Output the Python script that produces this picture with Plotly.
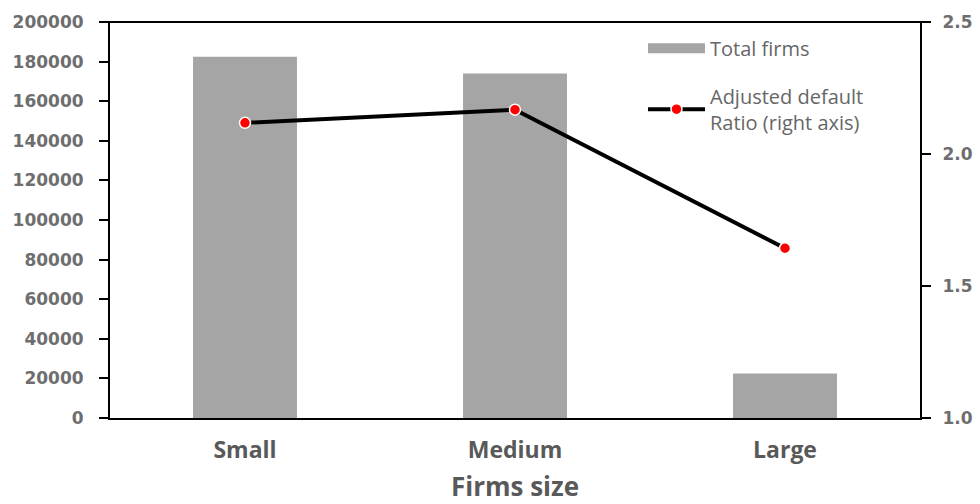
import plotly.graph_objects as go

# Firm size categories and values
categories = ["Small", "Medium", "Large"]
total_firms = [182500, 174000, 22500]
default_ratio = [2.118, 2.168, 1.643]

left_ticks = [0, 20000, 40000, 60000, 80000, 100000, 120000, 140000, 160000, 180000, 200000]
right_ticks = [1.0, 1.5, 2.0, 2.5]

BAR_GREY = "#a5a5a5"
TEXT_GREY = "#666666"
tick_font = dict(family="DejaVu Sans", size=17, color="#6e6e6e", weight="bold")

fig = go.Figure()
fig.add_trace(go.Bar(
    x=categories, y=total_firms, name="Total firms",
    marker=dict(color=BAR_GREY, line=dict(width=0)),
    showlegend=False,
))
# legend swatch for the bars: a wide flat grey band
fig.add_trace(go.Scatter(
    x=[None], y=[None], name="Total firms", mode="lines",
    line=dict(color=BAR_GREY, width=10),
    legendgroup="a", hoverinfo="skip",
))
fig.add_trace(go.Scatter(
    x=categories, y=default_ratio, yaxis="y2",
    name="Adjusted default<br>Ratio (right axis)",
    mode="lines+markers",
    line=dict(color="black", width=4),
    marker=dict(color="red", size=11, line=dict(color="white", width=1.5)),
    legendgroup="b",
))

fig.update_layout(
    width=980, height=504,
    margin=dict(l=110, r=60, t=22, b=86),
    plot_bgcolor="white", paper_bgcolor="white",
    bargap=0.615,
    showlegend=True,
    legend=dict(
        x=0.658, y=0.983, xanchor="left", yanchor="top",
        font=dict(family="Open Sans", size=20, color=TEXT_GREY),
        bgcolor="rgba(0,0,0,0)", traceorder="grouped", tracegroupgap=19,
        itemwidth=57,
    ),
    xaxis=dict(
        showline=True, linecolor="black", linewidth=2, automargin=False,
        ticks="", showgrid=False, ticklabelstandoff=10,
        tickfont=dict(family="Open Sans", size=23, color="#595959", weight="bold"),
        title=dict(text="Firms size", font=dict(family="Open Sans", size=26, color="#595959", weight="bold"), standoff=20),
    ),
    yaxis=dict(
        range=[0, 200000], tickvals=left_ticks, tickformat="d", automargin=False,
        showline=True, linecolor="black", linewidth=2,
        ticks="outside", ticklen=9, tickwidth=2, tickcolor="black",
        showgrid=False, zeroline=False, ticklabelstandoff=12,
        tickfont=tick_font,
    ),
    yaxis2=dict(
        range=[1.0, 2.5], tickvals=right_ticks, tickformat=".1f", automargin=False,
        overlaying="y", side="right",
        showline=True, linecolor="black", linewidth=2,
        ticks="outside", ticklen=9, tickwidth=2, tickcolor="black",
        showgrid=False, zeroline=False, ticklabelstandoff=8,
        tickfont=tick_font,
    ),
    shapes=[dict(type="line", xref="paper", yref="paper", x0=-0.012, x1=1.012, y0=1, y1=1,
                 line=dict(color="black", width=2))],
)

fig.write_html("out.html")
